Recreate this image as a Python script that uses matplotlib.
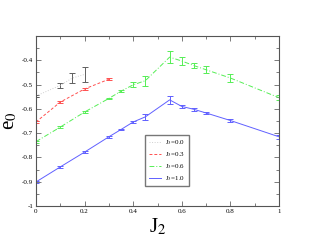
import numpy as np
import matplotlib.pyplot as plt

plt.rcParams['font.family'] = ['Liberation Serif', 'DejaVu Serif']
plt.rcParams['mathtext.fontset'] = 'stix'

# ground state energy e0 vs J2 for several J3
j2_a = [0.0, 0.1, 0.15, 0.2]
e0_a = [-0.547, -0.503, -0.473, -0.458]
err_a = [0.003, 0.01, 0.02, 0.03]

j2_b = [0.0, 0.1, 0.2, 0.3]
e0_b = [-0.654, -0.572, -0.518, -0.478]
err_b = [0.003, 0.004, 0.004, 0.005]

j2_c = [0.0, 0.1, 0.2, 0.3, 0.35, 0.4, 0.45, 0.55, 0.6, 0.65, 0.7, 0.8, 1.0]
e0_c = [-0.735, -0.675, -0.613, -0.557, -0.527, -0.501, -0.484,
        -0.387, -0.403, -0.422, -0.439, -0.473, -0.554]
err_c = [0.004, 0.004, 0.003, 0.003, 0.004, 0.01, 0.02,
         0.025, 0.015, 0.01, 0.015, 0.015, 0.01]

j2_d = [0.0, 0.1, 0.2, 0.3, 0.35, 0.4, 0.45, 0.55, 0.6, 0.65, 0.7, 0.8, 1.0]
e0_d = [-0.901, -0.839, -0.778, -0.715, -0.685, -0.654, -0.633,
        -0.563, -0.590, -0.602, -0.617, -0.648, -0.715]
err_d = [0.004, 0.005, 0.004, 0.004, 0.004, 0.006, 0.012,
         0.015, 0.006, 0.005, 0.004, 0.007, 0.008]

labels = [r'J$_3$=0.0', r'J$_3$=0.3', r'J$_3$=0.6', r'J$_3$=1.0']

fig = plt.figure(figsize=(3.14, 2.43), dpi=100)
ax = fig.add_axes([36 / 314, 37 / 243, 243 / 314, 170 / 243])

kw = dict(lw=0.7, elinewidth=0.7, capsize=2, capthick=0.7, markersize=2)
h = []
c = ax.errorbar(j2_a, e0_a, yerr=err_a, color='#d0d0d0', ecolor='#606060',
                ls=':', **kw)
h.append(c.lines[0])
c = ax.errorbar(j2_b, e0_b, yerr=err_b, color='#ff5050', ls=(0, (3, 2)), **kw)
h.append(c.lines[0])
c = ax.errorbar(j2_c, e0_c, yerr=err_c, color='#55ee55',
                ls=(0, (5, 2, 1, 2)), **kw)
h.append(c.lines[0])
c = ax.errorbar(j2_d, e0_d, yerr=err_d, color='#6060ff', ls='-', **kw)
h.append(c.lines[0])

ax.set_xlim(0, 1)
ax.set_ylim(-1, -0.3)
ax.set_xticks([0, 0.2, 0.4, 0.6, 0.8, 1])
ax.set_xticklabels(['0', '0.2', '0.4', '0.6', '0.8', '1'])
ax.set_xticks(np.arange(0.1, 1, 0.2), minor=True)
ax.set_yticks([-1, -0.9, -0.8, -0.7, -0.6, -0.5, -0.4])
ax.set_yticklabels(['-1', '-0.9', '-0.8', '-0.7', '-0.6', '-0.5', '-0.4'])
ax.set_yticks(np.arange(-0.95, -0.3, 0.1), minor=True)
ax.tick_params(which='both', direction='in', top=True, right=True,
               labelsize=5, width=0.6, color='#666666', pad=2)
ax.tick_params(which='major', length=3.5)
ax.tick_params(which='minor', length=2)
for s in ax.spines.values():
    s.set_linewidth(0.8)
    s.set_color('#555555')

ax.set_xlabel(r'J$_2$', fontsize=15, labelpad=2)
ax.set_ylabel(r'e$_0$', fontsize=15, labelpad=2)

ax.legend(h, labels, loc='lower left', bbox_to_anchor=(0.45, 0.115),
          fontsize=5, frameon=True, fancybox=False, edgecolor='#555555',
          handlelength=1.8, handletextpad=0.6, borderpad=0.5,
          labelspacing=0.45, borderaxespad=0)

plt.savefig('out.png', dpi=100)
